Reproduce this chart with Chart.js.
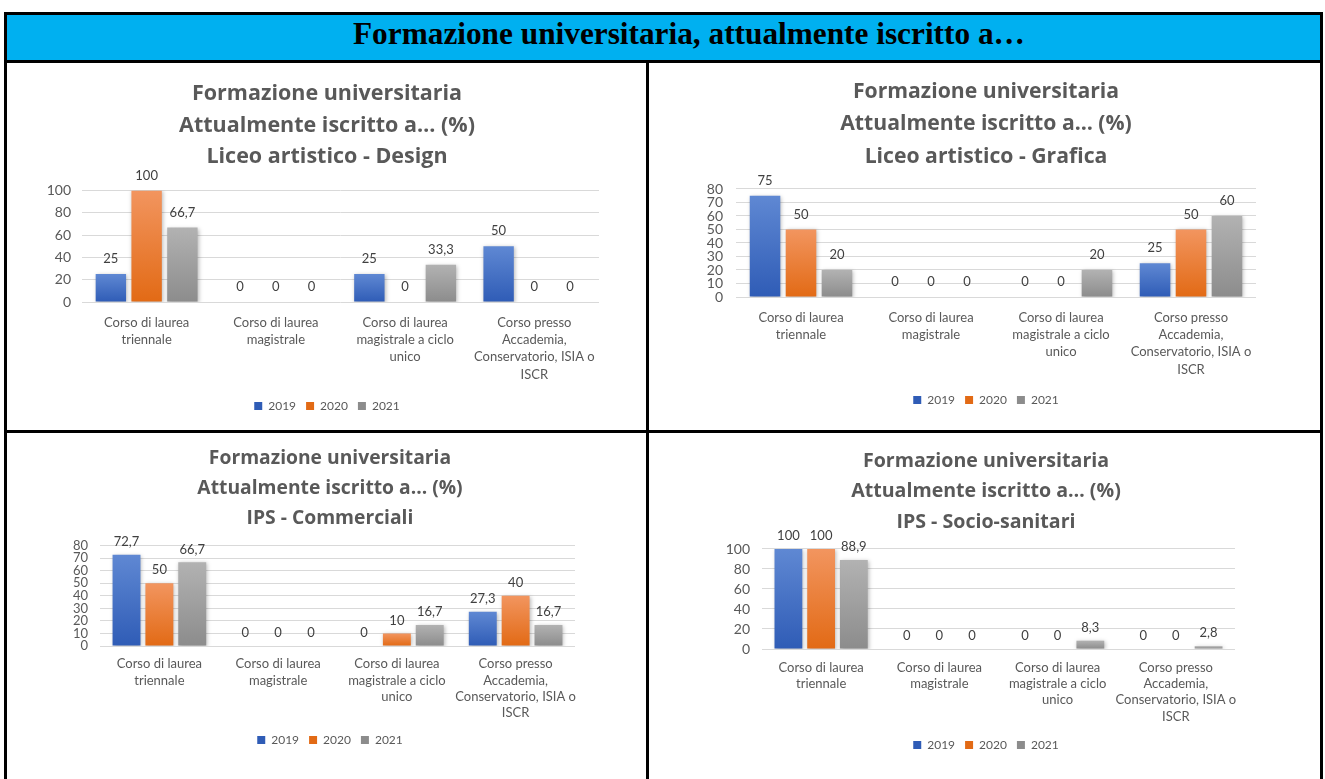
<!DOCTYPE html>
<html>
<head>
<meta charset="utf-8">
<script src="https://cdn.jsdelivr.net/npm/chart.js@4.4.0/dist/chart.umd.min.js"></script>
<style>
    body { margin: 0; background: #fff; width: 1325px; height: 779px; overflow: hidden; position: relative; }
    .line { position: absolute; background: #000; }
    #header { position: absolute; left: 7px; top: 15px; width: 1313px; height: 45px; background: #00B0F0; }
    #header span { position: absolute; left: 346px; top: 3px; font: bold 31.3px "Liberation Serif", serif; line-height: 1; color: #000; white-space: nowrap; }
    .cell { position: absolute; }
</style>
</head>
<body>
<div id="header"><span>Formazione universitaria, attualmente iscritto a…</span></div>
<!-- table borders -->
<div class="line" style="left:4px; top:12px; width:1319px; height:3px;"></div>
<div class="line" style="left:4px; top:60px; width:1319px; height:3px;"></div>
<div class="line" style="left:4px; top:12px; width:3px; height:767px;"></div>
<div class="line" style="left:1320px; top:12px; width:3px; height:767px;"></div>
<div class="line" style="left:646px; top:60px; width:3px; height:719px;"></div>
<div class="line" style="left:4px; top:430px; width:1319px; height:3px;"></div>

<div class="cell" style="left:42px; top:63px; width:570px; height:367px;"><canvas id="chartDesign"></canvas></div>
<div class="cell" style="left:700px; top:63px; width:572px; height:367px;"><canvas id="chartGrafica"></canvas></div>
<div class="cell" style="left:68px; top:433px; width:524px; height:346px;"><canvas id="chartComm"></canvas></div>
<div class="cell" style="left:723px; top:433px; width:526px; height:346px;"><canvas id="chartSocio"></canvas></div>

<script>
// categories and series
const categories = [
    ['Corso di laurea', 'triennale'],
    ['Corso di laurea', 'magistrale'],
    ['Corso di laurea', 'magistrale a ciclo', 'unico'],
    ['Corso presso', 'Accademia,', 'Conservatorio, ISIA o', 'ISCR']
];
const years = ['2019', '2020', '2021'];

const titleLines = ['Formazione universitaria', 'Attualmente iscritto a… (%)'];

// Liceo artistico - Design
const design2019 = [25, 0, 25, 50];
const design2020 = [100, 0, 0, 0];
const design2021 = [66.7, 0, 33.3, 0];

// Liceo artistico - Grafica
const grafica2019 = [75, 0, 0, 25];
const grafica2020 = [50, 0, 0, 50];
const grafica2021 = [20, 0, 20, 60];

// IPS - Commerciali
const comm2019 = [72.7, 0, 0, 27.3];
const comm2020 = [50, 0, 10, 40];
const comm2021 = [66.7, 0, 16.7, 16.7];

// IPS - Socio-sanitari
const socio2019 = [100, 0, 0, 0];
const socio2020 = [100, 0, 0, 0];
const socio2021 = [88.9, 0, 8.3, 2.8];

// y axis ticks
const ticks100 = { max: 100, step: 20 };
const ticks80 = { max: 80, step: 10 };

// bar colours: top of gradient, bottom of gradient, legend swatch
const barColors = [
    ['#5F88D3', '#2F5CB6', '#4472C4'],
    ['#F2955F', '#E26A15', '#ED7D31'],
    ['#B2B2B2', '#8C8C8C', '#A5A5A5']
];

function barFill(col) {
    return function(context) {
        if (context.type !== 'data') return col[2]; // legend box
        const y = context.chart.scales.y;
        if (!y) return col[2];
        const y0 = y.getPixelForValue(context.raw);
        const y1 = y.getPixelForValue(0);
        if (!isFinite(y0) || y1 - y0 < 1) return col[2];
        const g = context.chart.ctx.createLinearGradient(0, y0, 0, y1);
        g.addColorStop(0, col[0]);
        g.addColorStop(1, col[1]);
        return g;
    };
}

// soft shadow under the bars
const barShadow = {
    id: 'barShadow',
    beforeDatasetsDraw(chart) {
        const c = chart.ctx;
        c.save();
        c.shadowColor = 'rgba(0,0,0,0.28)';
        c.shadowBlur = 4;
        c.shadowOffsetX = 1;
        c.shadowOffsetY = 1;
    },
    afterDatasetsDraw(chart) {
        chart.ctx.restore();
    }
};

// value above each bar, comma decimals
const valueLabels = {
    id: 'valueLabels',
    afterDatasetsDraw(chart, args, opts) {
        const c = chart.ctx;
        c.save();
        c.font = opts.size + 'px Lato';
        c.fillStyle = '#404040';
        c.textAlign = 'center';
        c.textBaseline = 'middle';
        chart.data.datasets.forEach((ds, i) => {
            chart.getDatasetMeta(i).data.forEach((bar, j) => {
                c.fillText(String(ds.data[j]).replace('.', ','), bar.x, bar.y - opts.offset);
            });
        });
        c.restore();
    }
};

function makeChart(id, subtitle, series, yTicks, lay) {
    const ctx = document.getElementById(id).getContext('2d');
    return new Chart(ctx, {
        type: 'bar',
        data: {
            labels: categories,
            datasets: series.map((vals, i) => ({
                label: years[i],
                data: vals,
                backgroundColor: barFill(barColors[i]),
                borderWidth: 0,
                categoryPercentage: 0.83,
                barPercentage: 0.85
            }))
        },
        plugins: [barShadow, valueLabels],
        options: {
            responsive: true,
            maintainAspectRatio: false,
            animation: false,
            layout: {
                padding: { left: 0, right: 0, top: 0, bottom: lay.bottom }
            },
            scales: {
                x: {
                    grid: { display: false },
                    border: { display: false },
                    ticks: {
                        color: '#595959',
                        font: { family: 'Lato', size: 13, lineHeight: lay.xLine },
                        padding: lay.xPad,
                        maxRotation: 0,
                        minRotation: 0,
                        autoSkip: false
                    },
                    afterFit: function(scale) { scale.height = lay.xHeight; }
                },
                y: {
                    min: 0,
                    max: yTicks.max,
                    grid: { color: '#D9D9D9', drawTicks: false },
                    border: { display: false },
                    ticks: {
                        stepSize: yTicks.step,
                        autoSkip: false,
                        color: '#595959',
                        font: { family: 'Lato', size: lay.ySize, lineHeight: 1 },
                        padding: lay.yPad
                    },
                    afterFit: function(scale) { scale.width = lay.yWidth; }
                },
                // empty axis on the right, only to balance the title and legend
                yRight: {
                    type: 'linear',
                    position: 'right',
                    grid: { display: false },
                    border: { display: false },
                    ticks: { display: false },
                    afterFit: function(scale) { scale.width = lay.rightWidth; }
                }
            },
            plugins: {
                title: {
                    display: true,
                    text: titleLines.concat([subtitle]),
                    color: '#595959',
                    font: { family: 'Open Sans', size: lay.tSize, weight: 'bold', lineHeight: lay.tLine },
                    padding: { top: lay.tTop, bottom: lay.tBottom }
                },
                legend: {
                    position: 'bottom',
                    labels: {
                        boxWidth: 8,
                        boxHeight: 8,
                        padding: 10,
                        color: '#595959',
                        font: { family: 'Lato', size: 12 }
                    }
                },
                tooltip: { enabled: false },
                valueLabels: { size: 13, offset: lay.labelOff }
            }
        }
    });
}

window.onload = function() {
    makeChart('chartDesign', 'Liceo artistico - Design', [design2019, design2020, design2021], ticks100,
        { bottom: 8, xLine: 1.33, xPad: 4, xHeight: 88, ySize: 14, yPad: 11, yWidth: 40, rightWidth: 13,
          tSize: 21.5, tLine: 1.465, tTop: 15.5, tBottom: 17.5, labelOff: 15 });
    makeChart('chartGrafica', 'Liceo artistico - Grafica', [grafica2019, grafica2020, grafica2021], ticks80,
        { bottom: 14, xLine: 1.33, xPad: 4, xHeight: 87, ySize: 14, yPad: 13, yWidth: 36, rightWidth: 16,
          tSize: 21.2, tLine: 1.533, tTop: 12.5, tBottom: 16, labelOff: 15 });
    makeChart('chartComm', 'IPS - Commerciali', [comm2019, comm2020, comm2021], ticks80,
        { bottom: 23, xLine: 1.25, xPad: 2, xHeight: 78, ySize: 13, yPad: 12, yWidth: 32, rightWidth: 17,
          tSize: 19.3, tLine: 1.554, tTop: 11, tBottom: 11.7, labelOff: 13 });
    makeChart('chartSocio', 'IPS - Socio-sanitari', [socio2019, socio2020, socio2021], ticks100,
        { bottom: 18, xLine: 1.25, xPad: 2.5, xHeight: 80, ySize: 14, yPad: 12, yWidth: 39, rightWidth: 14,
          tSize: 19.6, tLine: 1.556, tTop: 12.75, tBottom: 11.75, labelOff: 13 });
};
</script>
</body>
</html>
